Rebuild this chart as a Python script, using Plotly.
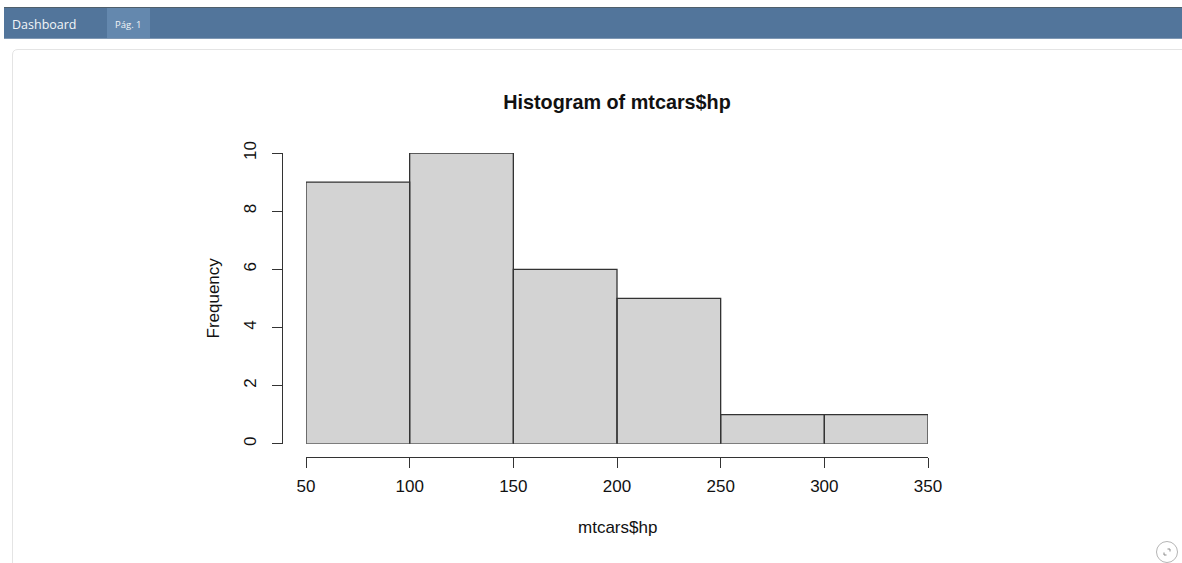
import plotly.graph_objects as go

bin_edges = [50, 100, 150, 200, 250, 300, 350]
counts = [9, 10, 6, 5, 1, 1]
x_ticks = [50, 100, 150, 200, 250, 300, 350]
y_ticks = [0, 2, 4, 6, 8, 10]
chart_title = "Histogram of mtcars$hp"
x_title = "mtcars$hp"
y_title = "Frequency"
nav_brand = "Dashboard"
nav_tab = "Pág. 1"

W, H = 1182, 563
CHART_FONT = "Liberation Sans, Arial, sans-serif"
NAV_FONT = "Open Sans, Noto Sans, sans-serif"
INK = "#333333"


def px(v):
    return v / W


def py(v):
    return 1 - v / H


centres = [(a + b) / 2 for a, b in zip(bin_edges[:-1], bin_edges[1:])]
widths = [b - a for a, b in zip(bin_edges[:-1], bin_edges[1:])]

# Outline of every bin, built from the same edges and counts.
outline_x, outline_y = [], []
for a, b, c in zip(bin_edges[:-1], bin_edges[1:], counts):
    outline_x += [a, a, b, b, a, None]
    outline_y += [0, c, c, 0, 0, None]

fig = go.Figure()
fig.add_trace(
    go.Bar(
        x=centres,
        y=counts,
        width=widths,
        marker=dict(color="#d3d3d3", line=dict(width=0)),
        hoverinfo="x+y",
    )
)
fig.add_trace(
    go.Scatter(
        x=outline_x,
        y=outline_y,
        mode="lines",
        line=dict(color=INK, width=1.3),
        cliponaxis=False,
        hoverinfo="skip",
    )
)


def rect(x0, y0, x1, y1, **kw):
    return dict(type="rect", xref="paper", yref="paper", layer="below",
                x0=px(x0), x1=px(x1), y0=py(y0), y1=py(y1), **kw)


def poly(points, color, width):
    d = "M " + " L ".join(f"{px(a)} {py(b)}" for a, b in points)
    return dict(type="path", path=d, xref="paper", yref="paper", line=dict(color=color, width=width))


card_path = (
    f"M {px(1182)} {py(49.5)} L {px(18)} {py(49.5)} "
    f"Q {px(12.5)} {py(49.5)} {px(12.5)} {py(55)} L {px(12.5)} {py(563)}"
)

axis_style = dict(
    tickmode="array",
    ticks="outside",
    tickwidth=1.3,
    tickcolor=INK,
    showline=True,
    linecolor=INK,
    linewidth=1.3,
    showgrid=False,
    zeroline=False,
    anchor="free",
    tickfont=dict(size=17),
)

fig.update_layout(
    width=W,
    height=H,
    margin=dict(l=0, r=0, t=0, b=0, autoexpand=False),
    paper_bgcolor="#ffffff",
    plot_bgcolor="rgba(0,0,0,0)",
    showlegend=False,
    bargap=0,
    font=dict(family=CHART_FONT, color="#111111", size=17),
    title=dict(
        text=f"<b>{chart_title}</b>",
        font=dict(size=19.8, family=CHART_FONT, color="#111111"),
        x=px(617),
        xanchor="center",
        y=py(102.5),
        yanchor="middle",
    ),
    xaxis=dict(
        domain=[px(306), px(928)],
        range=[bin_edges[0], bin_edges[-1]],
        tickvals=x_ticks,
        ticktext=[str(v) for v in x_ticks],
        ticklen=10,
        position=py(456.5),
        ticklabelstandoff=4,
        **axis_style,
    ),
    yaxis=dict(
        domain=[py(443.8), py(153)],
        range=[0, 10],
        tickvals=y_ticks,
        ticktext=[str(v) for v in y_ticks],
        tickangle=-90,
        ticklen=10,
        position=px(282),
        ticklabelstandoff=9,
        **axis_style,
    ),
    shapes=[
        rect(4, 7, 1182, 39, fillcolor="#52759b", line=dict(width=0)),
        rect(4, 7, 1182, 8, fillcolor="#4f5f6b", line=dict(width=0)),
        rect(4, 38, 1182, 39, fillcolor="#7f98b4", line=dict(width=0)),
        rect(107, 8, 150, 38, fillcolor="#6488ae", line=dict(width=0)),
        dict(type="path", path=card_path, xref="paper", yref="paper", layer="below",
             line=dict(color="#e4e4e4", width=1)),
        dict(type="circle", xref="paper", yref="paper",
             x0=px(1156.5), x1=px(1177.5), y0=py(541.5), y1=py(562.5),
             line=dict(color="#b5b5b5", width=1)),
        poly([(1164, 552.5), (1164, 555), (1166.5, 555)], "#8a8a8a", 1),
        poly([(1167.5, 549), (1170, 549), (1170, 551.5)], "#8a8a8a", 1),
    ],
    annotations=[
        dict(text=nav_brand, xref="paper", yref="paper", x=px(9.5), y=py(24), xanchor="left",
             yanchor="middle", showarrow=False, font=dict(family=NAV_FONT, size=12.5, color="#f2f5f8")),
        dict(text=nav_tab, xref="paper", yref="paper", x=px(128.5), y=py(24), xanchor="center",
             yanchor="middle", showarrow=False, font=dict(family=NAV_FONT, size=9.5, color="#f2f5f8")),
        dict(text=x_title, xref="paper", yref="paper", x=px(617), y=py(527), xanchor="center",
             yanchor="middle", showarrow=False, font=dict(size=17)),
        dict(text=y_title, xref="paper", yref="paper", x=px(213), y=py(298.5), xanchor="center",
             yanchor="middle", textangle=-90, showarrow=False, font=dict(size=17)),
    ],
)

fig.write_html(
    "out.html",
    config={"displayModeBar": False},
    post_script="document.body.style.margin='0';document.documentElement.style.overflow='hidden';",
)
